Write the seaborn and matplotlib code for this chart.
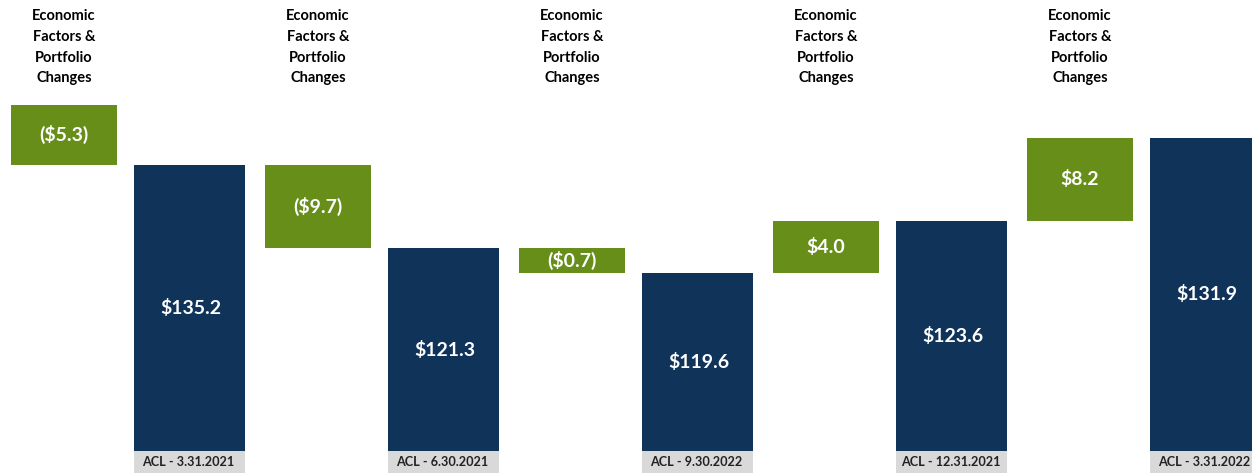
import numpy as np
import pandas as pd
import matplotlib
matplotlib.use("Agg")
import matplotlib.pyplot as plt
import seaborn as sns

# labels shown on the chart
periods = ["ACL - 3.31.2021", "ACL - 6.30.2021", "ACL - 9.30.2022", "ACL - 12.31.2021", "ACL - 3.31.2022"]
total_labels = ["$135.2", "$121.3", "$119.6", "$123.6", "$131.9"]
change_labels = ["($5.3)", "($9.7)", "($0.7)", "$4.0", "$8.2"]
header = "Economic\nFactors &\nPortfolio\nChanges"

# bar levels as drawn in the picture (chart units, first total = 135.2)
start_level = 163.6
drawn_totals = [135.2, 95.8, 84.1, 108.9, 148.0]

navy = "#10335A"
green = "#688E1A"
grey = "#D9D9D9"

sns.set_theme(style="white")
plt.rcParams["font.family"] = ["Lato", "DejaVu Sans"]

fig = plt.figure(figsize=(12.52, 4.73), dpi=100)
ax = fig.add_axes([0, 0, 1, 1])

total_pos = np.arange(len(drawn_totals)) * 2 + 1
change_pos = total_pos - 1
prev_levels = [start_level] + drawn_totals[:-1]

df = pd.DataFrame({"pos": total_pos - 0.012, "level": drawn_totals})
sns.barplot(data=df, x="pos", y="level", native_scale=True, width=0.437,
            color=navy, saturation=1, linewidth=0, ax=ax)

# floating change bars between consecutive levels
lo = np.minimum(prev_levels, drawn_totals)
hi = np.maximum(prev_levels, drawn_totals)
ax.bar(change_pos, hi - lo, bottom=lo, width=0.835, color=green, linewidth=0)

# grey category boxes under the totals
box_h = 10.4
ax.bar(total_pos - 0.012, box_h, bottom=-box_h, width=0.874, color=grey, linewidth=0)

for i in range(len(drawn_totals)):
    ax.text(total_pos[i], drawn_totals[i] / 2, total_labels[i], color="white",
            ha="center", va="center", fontsize=14, fontweight="bold")
    ax.text(change_pos[i], (lo[i] + hi[i]) / 2, change_labels[i], color="white",
            ha="center", va="center", fontsize=14, fontweight="bold")
    ax.text(total_pos[i] - 0.02, -box_h / 2, periods[i], color="#222222",
            ha="center", va="center", fontsize=9.1, fontweight="bold")
    ax.text(change_pos[i], 190.8, header, color="black", ha="center", va="center",
            fontsize=10.5, fontweight="bold", linespacing=1.61)

ax.set_xlim(-0.504, 9.354)
ax.set_ylim(-box_h, 213.2)
ax.axis("off")

fig.savefig("out.png", dpi=100)
